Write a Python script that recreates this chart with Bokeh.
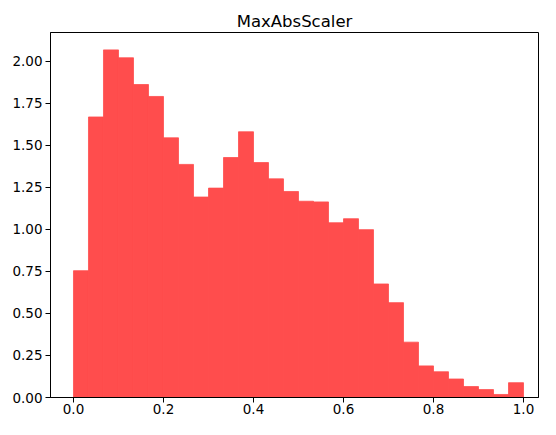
import numpy as np
from bokeh.plotting import figure
from bokeh.models import ColumnDataSource, FixedTicker, Range1d, NumeralTickFormatter
from bokeh.embed import file_html
from bokeh.resources import INLINE

# Histogram data: 30 equal bins over [0, 1]
bin_lo = 0.0
bin_hi = 1.0
n_bins = 30
density = [0.754, 1.668, 2.067, 2.020, 1.861, 1.790, 1.544, 1.386, 1.192, 1.245,
           1.427, 1.580, 1.397, 1.300, 1.225, 1.167, 1.163, 1.039, 1.063, 0.998,
           0.675, 0.564, 0.329, 0.188, 0.153, 0.110, 0.065, 0.047, 0.018, 0.088]
x_ticks = [0.0, 0.2, 0.4, 0.6, 0.8, 1.0]
y_ticks = [0.0, 0.25, 0.5, 0.75, 1.0, 1.25, 1.5, 1.75, 2.0]

edges = np.linspace(bin_lo, bin_hi, n_bins + 1)
src = ColumnDataSource(dict(left=edges[:-1], right=edges[1:], top=density,
                            bottom=[0.0] * n_bins))

bar_color = "#ff4d4d"  # red at 70% opacity on white

p = figure(width=540, height=419, output_backend="svg", toolbar_location=None,
           title="MaxAbsScaler",
           x_range=Range1d(-0.0511, 1.0333), y_range=Range1d(0, max(density) * 1.05),
           min_border_left=50, min_border_right=2, min_border_top=32, min_border_bottom=22)

p.quad(left="left", right="right", top="top", bottom="bottom", source=src,
       fill_color=bar_color, fill_alpha=1.0, line_color=bar_color, line_width=0.8)

p.title.align = "center"
p.title.text_font = "DejaVu Sans"
p.title.text_font_size = "16.5px"
p.title.text_font_style = "normal"
p.title.text_color = "black"
p.title.standoff = 4

p.grid.visible = False
p.outline_line_color = "black"
p.outline_line_alpha = 1.0
p.outline_line_width = 1

for ax in (p.xaxis, p.yaxis):
    ax.major_label_text_font = "DejaVu Sans"
    ax.major_label_text_font_size = "13.5px"
    ax.major_label_text_color = "black"
    ax.minor_tick_line_color = None
    ax.major_tick_in = 0
    ax.major_tick_out = 5
    ax.major_tick_line_color = "black"
    ax.axis_line_color = "black"
    ax.major_label_standoff = 3

p.xaxis.major_label_standoff = 1
p.xaxis.ticker = FixedTicker(ticks=x_ticks)
p.yaxis.ticker = FixedTicker(ticks=y_ticks)
p.xaxis.formatter = NumeralTickFormatter(format="0.0")
p.yaxis.formatter = NumeralTickFormatter(format="0.00")

open("out.html", "w").write(file_html(p, INLINE))
